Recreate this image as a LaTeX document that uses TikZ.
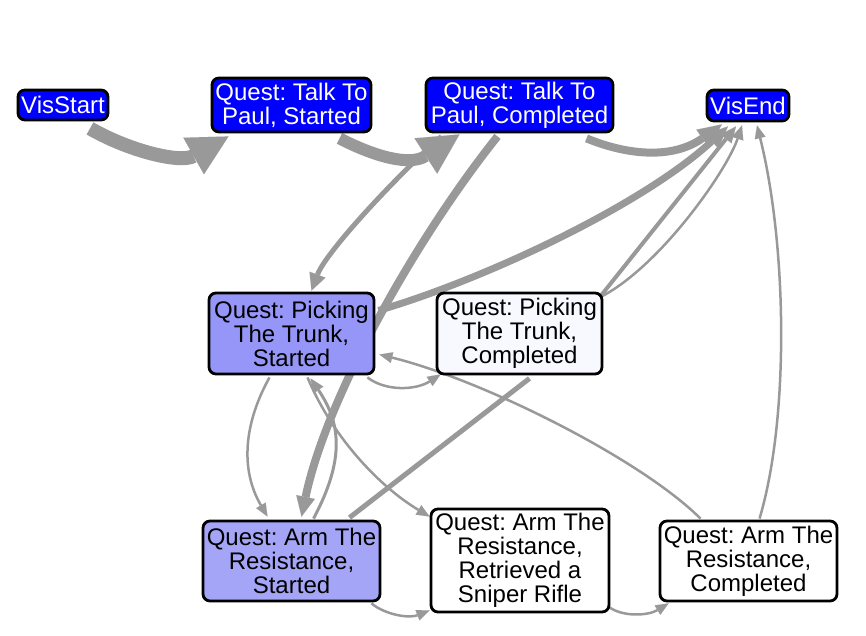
\documentclass[tikz,border=0pt]{standalone}
\usepackage{fontspec}
\setmainfont{Liberation Sans}
\usetikzlibrary{arrows.meta,calc}
\pgfdeclarelayer{bg}
\pgfsetlayers{bg,main}
\definecolor{eg}{HTML}{999999}
\definecolor{topblue}{RGB}{0,0,255}
\definecolor{psfill}{RGB}{150,150,248}
\definecolor{asfill}{RGB}{165,165,248}
\definecolor{pcfill}{RGB}{248,248,255}
\tikzset{
  qnode/.style={draw=black, line width=2.8pt, rounded corners=7pt, inner sep=0pt,
    align=center, font=\fontsize{24}{24}\selectfont\frenchspacing},
  topnode/.style={qnode, fill=topblue, text=white},
  eline/.style={draw=eg, line width=#1},
  thintip/.style={-{Triangle[length=13pt,width=11pt,line width=0.01pt]}},
}
\begin{document}
\begin{tikzpicture}[x=1pt,y=-1pt]
\useasboundingbox (0,0) rectangle (866,636);
% nodes
\node[topnode, minimum width=90pt, minimum height=30pt] (vs) at (63,105) {VisStart};
\node[topnode, minimum width=159pt, minimum height=54pt] (ts) at (291.5,105) {Quest: Talk To\\Paul, Started};
\node[topnode, minimum width=187pt, minimum height=54pt] (tc) at (519.5,105) {Quest: Talk To\\Paul, Completed};
\node[topnode, minimum width=82pt, minimum height=31pt] (ve) at (748,105.5) {VisEnd};
\node[qnode, fill=psfill, minimum width=165pt, minimum height=81pt] (ps) at (291.5,333.5) {Quest: Picking\\The Trunk,\\Started};
\node[qnode, fill=pcfill, minimum width=165pt, minimum height=81pt] (pc) at (519.5,333.5) {Quest: Picking\\The Trunk,\\Completed};
\node[qnode, fill=asfill, minimum width=177pt, minimum height=80pt] (as) at (291.5,561) {Quest: Arm The\\Resistance,\\Started};
\node[qnode, fill=white, minimum width=178pt, minimum height=103pt] (ar) at (520,560.5) {Quest: Arm The\\Resistance,\\Retrieved a\\Sniper Rifle};
\node[qnode, fill=white, minimum width=177pt, minimum height=80pt] (ac) at (748.5,561) {Quest: Arm The\\Resistance,\\Completed};
% edges
\begin{pgfonlayer}{bg}
% VisStart -> Talk Started
\draw[eline=14pt, -{Triangle[length=40pt,width=42pt,line width=0.01pt]}]
  ($(vs.south)+(27,7)$) .. controls +(40,23) and +(-48,27) .. ($(ts.south)+(-63,3)$);
% Talk Started -> Talk Completed
\draw[eline=12pt, -{Triangle[length=40pt,width=42pt,line width=0.01pt]}]
  ($(ts.south)+(48,5)$) .. controls +(35,18) and +(-50,32) .. ($(tc.south)+(-60,1)$);
% Talk Completed -> VisEnd
\draw[eline=8pt, -{Triangle[length=24pt,width=21pt,line width=0.01pt]}]
  ($(tc.south)+(67,5)$) .. controls +(44,18) and +(-48,34) .. ($(ve.south)+(-26,2)$);
% Talk Completed -> Picking Started
\draw[eline=5pt, -{Triangle[length=17pt,width=17pt,line width=0.01pt]}]
  ($(tc.south)+(-78,3)$) .. controls +(-40,35) and +(15,-40) .. ($(ps.north)+(20,-1)$);
% Talk Completed -> Arm Started
\draw[eline=8pt, -{Triangle[length=20pt,width=19pt,line width=0.01pt]}]
  ($(tc.south)+(-22,3)$) .. controls +(-80,100) and +(25,-120) .. ($(as.north)+(10,-3)$);
% Picking Started -> VisEnd
\draw[eline=7pt, -{Triangle[length=22pt,width=19pt,line width=0.01pt]}]
  ($(ps.east)+(3,-23)$) .. controls +(103,-30) and +(-87,80) .. ($(ve.south)+(-20,4)$);
% Picking Completed -> VisEnd (two)
\draw[eline=4pt, -{Triangle[length=16pt,width=14pt,line width=0.01pt]}]
  ($(pc.north east)+(-4,6)$) -- ($(ve.south)+(-12,4)$);
\draw[eline=2.5pt, -{Triangle[length=14pt,width=12pt,line width=0.01pt]}]
  ($(pc.north east)+(-4,6)$) .. controls +(60,-30) and +(-15,45) .. ($(ve.south)+(-6,3)$);
% Arm Completed -> VisEnd
\draw[eline=2.5pt, thintip]
  ($(ac.north)+(11,-1)$) .. controls +(30,-100) and +(30,120) .. ($(ve.south)+(9,3)$);
% Picking Started -> Picking Completed
\draw[eline=2.5pt, thintip]
  ($(ps.south east)+(-8,2)$) .. controls +(18,14) and +(-25,16) .. ($(pc.south west)+(5,-1)$);
% Arm Completed -> Picking Started
\draw[eline=2.5pt, thintip]
  ($(ac.north)+(-48,-1)$) .. controls +(-60,-60) and +(102,25) .. ($(ps.east)+(4,21)$);
% Picking Started -> Arm Started
\draw[eline=2.5pt, thintip]
  ($(ps.south)+(-22,2)$) .. controls +(-25,45) and +(-28,-48) .. ($(as.north)+(-24,-3)$);
% Arm Started -> Picking Started
\draw[eline=3pt, -{Triangle[length=14pt,width=12pt,line width=0.01pt]}]
  ($(as.north)+(22,-1)$) .. controls +(32,-60) and +(30,44) .. ($(ps.south)+(19,3)$);
% Picking Started -> Arm Retrieved
\draw[eline=2.5pt, thintip]
  ($(ps.south)+(16,2)$) .. controls +(25,60) and +(-50,-30) .. ($(ar.north west)+(0,9)$);
% Picking Completed -- Arm Started
\draw[eline=5pt]
  ($(pc.south)+(10,3)$) -- ($(as.north)+(58,-2)$);
% Arm Started -> Arm Retrieved
\draw[eline=2.5pt, thintip]
  ($(as.south east)+(-10,1)$) .. controls +(15,12) and +(-20,8) .. ($(ar.south west)+(0,-3)$);
% Arm Retrieved -> Arm Completed
\draw[eline=2.5pt, thintip]
  ($(ar.south east)+(-1,-6)$) .. controls +(15,10) and +(-20,12) .. ($(ac.south west)+(10,1)$);
\end{pgfonlayer}
\end{tikzpicture}
\end{document}
